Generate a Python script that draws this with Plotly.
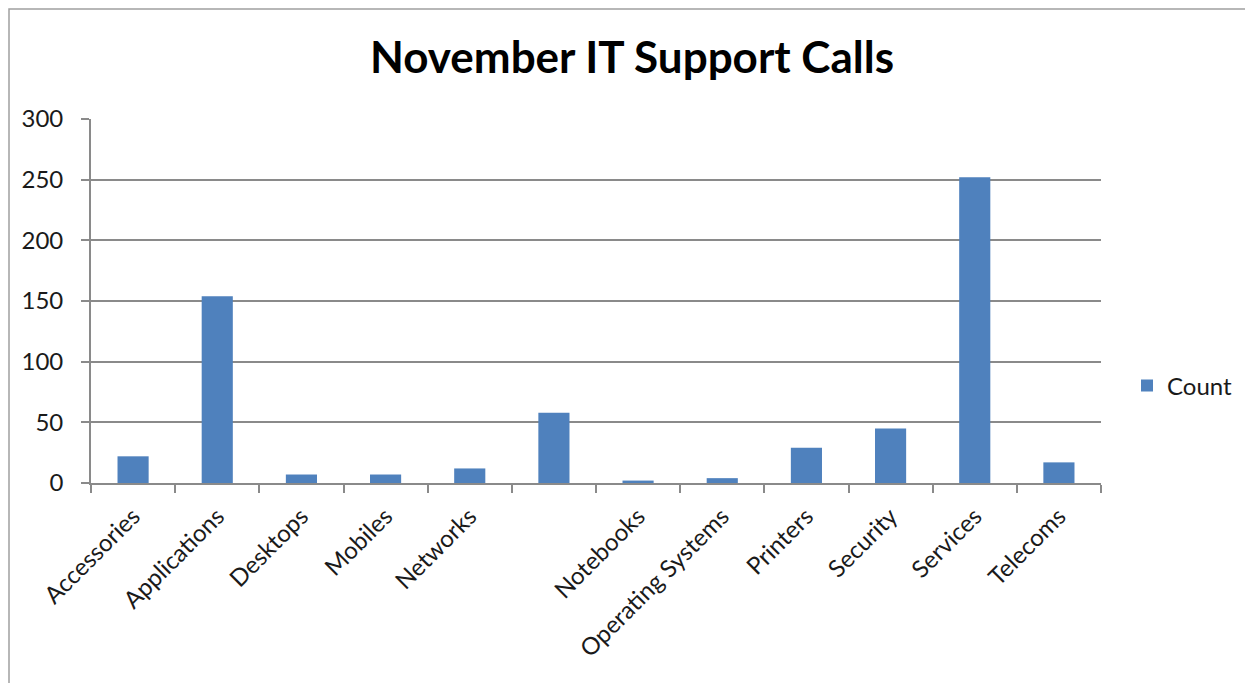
import plotly.graph_objects as go

categories = ["Accessories", "Applications", "Desktops", "Mobiles", "Networks", " ",
              "Notebooks", "Operating Systems", "Printers", "Security", "Services", "Telecoms"]
counts = [22, 154, 7, 7, 12, 58, 2, 4, 29, 45, 252, 17]
series_name = "Count"
title_text = "November IT Support Calls"
y_ticks = [0, 50, 100, 150, 200, 250, 300]

# page is offset by the default 8px body margin
OFF = 8
W, H = 1253 - OFF, 683 - OFF
L, T = 91 - OFF, 119 - OFF
R = W - (1101 - OFF)
B = H - (483 - OFF)
pw, ph = W - L - R, H - T - B

def px_x(page_px):
    return (page_px - OFF - L) / pw

def px_y(page_py):
    return (H - B - (page_py - OFF)) / ph

fig = go.Figure()
fig.add_trace(go.Bar(
    x=categories, y=counts, name=series_name,
    marker=dict(color="#4F81BD", line=dict(width=0)),
    width=0.37,
    showlegend=True,
))

axis_gray = "#8A8A8A"
txt = "#1A1A1A"
fig.update_layout(
    width=W, height=H,
    margin=dict(l=L, r=R, t=T, b=B, autoexpand=False),
    paper_bgcolor="white", plot_bgcolor="white",
    font=dict(family="Lato, Calibri, sans-serif", size=24, color=txt),
    title=dict(text="<b>" + title_text + "</b>", x=px_x(632), xref="paper", xanchor="center",
               y=1 - (58 - OFF) / H, yanchor="middle",
               font=dict(family="Lato, Calibri, sans-serif", size=44, color="#000000")),
    showlegend=True,
    legend=dict(x=px_x(1127), y=px_y(386), xanchor="left", yanchor="middle",
                font=dict(size=24, color=txt), bgcolor="rgba(0,0,0,0)",
                itemwidth=30),
    xaxis=dict(
        type="category", tickangle=-45, tickson="boundaries", ticks="outside",
        ticklen=8, tickcolor=axis_gray, tickwidth=1.8, showline=True, linecolor=axis_gray,
        linewidth=1.8, showgrid=False, tickfont=dict(size=24, color=txt), range=[-0.5, 11.5],
        ticklabelstandoff=8,
    ),
    yaxis=dict(
        range=[0, 300], tickvals=y_ticks, ticks="outside", ticklen=8, tickcolor=axis_gray,
        tickwidth=1.8, showline=True, linecolor=axis_gray, linewidth=1.8, showgrid=True,
        gridcolor=axis_gray, gridwidth=1.8, zeroline=False,
        tickfont=dict(size=24, color=txt), ticklabelstandoff=13,
    ),
    shapes=[dict(type="rect", xref="paper", yref="paper",
                 x0=px_x(OFF + 1), x1=px_x(1400), y0=px_y(OFF + 1), y1=px_y(800),
                 line=dict(color="#A0A0A0", width=1.5), fillcolor="rgba(0,0,0,0)", layer="below")],
)

fig.write_html("out.html")
